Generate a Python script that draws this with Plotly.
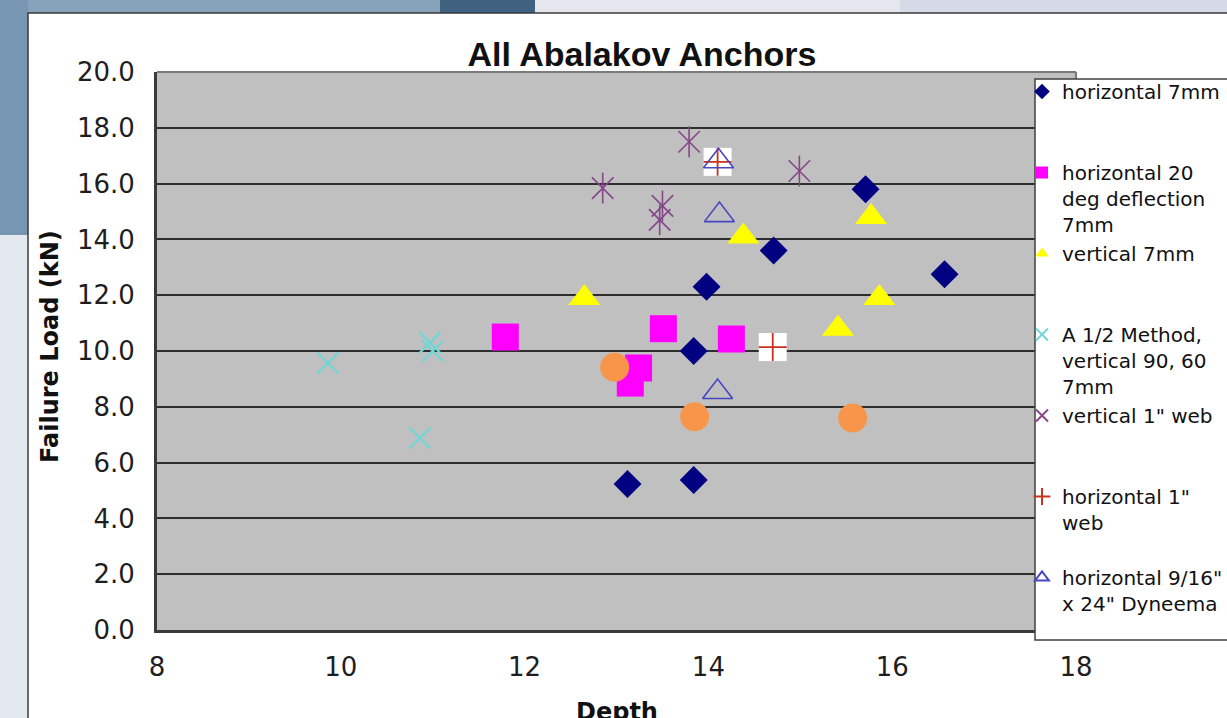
import plotly.graph_objects as go

# ---------------- data ----------------
h7_depth = [15.71, 14.71, 16.57, 13.98, 13.84, 13.12, 13.84]
h7_load = [15.8, 13.6, 12.75, 12.3, 10.0, 5.23, 5.38]

h20_depth = [11.79, 13.51, 14.25, 13.24, 13.15]
h20_load = [10.5, 10.8, 10.43, 9.39, 8.85]

v7_depth = [12.65, 14.38, 15.77, 15.86, 15.41]
v7_load = [11.9, 14.1, 14.8, 11.9, 10.8]

a12_depth = [9.86, 10.97, 11.0, 10.86]
a12_load = [9.57, 10.3, 10.0, 6.88]

vweb_depth = [12.85, 13.79, 14.99, 13.5, 13.47]
vweb_load = [15.84, 17.5, 16.45, 15.2, 14.7]

hweb_depth = [14.1, 14.7]
hweb_load = [16.78, 10.14]

dyn_depth = [14.11, 14.12, 14.1]
dyn_load = [16.8, 14.87, 8.53]

orange_depth = [12.98, 13.85, 15.57]
orange_load = [9.42, 7.64, 7.6]

series_names = [
    "horizontal 7mm<br>\u00a0<br>\u00a0",
    "horizontal 20<br>deg deflection<br>7mm",
    "vertical 7mm<br>\u00a0<br>\u00a0",
    "A 1/2 Method,<br>vertical 90, 60<br>7mm",
    "vertical 1\" web<br>\u00a0<br>\u00a0",
    "horizontal 1\"<br>web<br>\u00a0",
    "horizontal 9/16\"<br>x 24\" Dyneema",
]

x_ticks = [8, 10, 12, 14, 16, 18]
y_ticks = [0, 2, 4, 6, 8, 10, 12, 14, 16, 18, 20]

# ---------------- layout helpers (pixel -> paper) ----------------
W_FIG, H_FIG = 1227, 718
L, R, T, B = 157, 1076, 72, 630
PW, PH = R - L, B - T


def px(x):
    return (x - L) / PW


def py(y):
    return (B - y) / PH


fig = go.Figure()

fig.add_trace(go.Scatter(x=h7_depth, y=h7_load, mode="markers", name=series_names[0],
                         marker=dict(symbol="diamond", size=21.5, color="#000080")))
fig.add_trace(go.Scatter(x=h20_depth, y=h20_load, mode="markers", name=series_names[1],
                         marker=dict(symbol="square", size=27, color="#ff00ff")))
fig.add_trace(go.Scatter(x=v7_depth, y=v7_load, mode="markers", name=series_names[2],
                         marker=dict(symbol="triangle-up", size=28, color="#ffff00")))
fig.add_trace(go.Scatter(x=a12_depth, y=a12_load, mode="markers", name=series_names[3],
                         marker=dict(symbol="x-thin-open", size=21, color="#6fd6d6",
                                     line=dict(width=2.2))))
fig.add_trace(go.Scatter(x=vweb_depth, y=vweb_load, mode="markers", name=series_names[4],
                         marker=dict(symbol="x-thin-open", size=21.5, color="#86468a",
                                     line=dict(width=1.6))))
fig.add_trace(go.Scatter(x=vweb_depth, y=vweb_load, mode="markers", showlegend=False,
                         hoverinfo="skip",
                         marker=dict(symbol="line-ns-open", size=22, color="#86468a",
                                     line=dict(width=1.6))))
fig.add_trace(go.Scatter(x=hweb_depth, y=hweb_load, mode="markers", showlegend=False,
                         hoverinfo="skip",
                         marker=dict(symbol="square", size=28, color="#ffffff")))
fig.add_trace(go.Scatter(x=hweb_depth, y=hweb_load, mode="markers", name=series_names[5],
                         marker=dict(symbol="cross-thin-open", size=20, color="#c8321e",
                                     line=dict(width=1.8))))
fig.add_trace(go.Scatter(x=dyn_depth, y=dyn_load, mode="markers", name=series_names[6],
                         marker=dict(symbol="triangle-up-open", size=26, color="#4646c4",
                                     line=dict(width=1.6))))
fig.add_trace(go.Scatter(x=orange_depth, y=orange_load, mode="markers", showlegend=False,
                         marker=dict(symbol="circle", size=29, color="#f7964a")))

# ---------------- decorative background shapes ----------------
shapes = []


def rect(x0, y0, x1, y1, fill, layer="below", line=None):
    d = dict(type="rect", xref="paper", yref="paper",
             x0=px(x0), x1=px(x1), y0=py(y1), y1=py(y0),
             fillcolor=fill, layer=layer, line=line or dict(width=0))
    shapes.append(d)


# photo-like surroundings
rect(0, 0, 440, 14, "#86a3bb")
rect(440, 0, 535, 14, "#3f6280")
rect(535, 0, 900, 14, "#e6e6ee")
rect(900, 0, 1227, 14, "#d6d9e6")
rect(0, 0, 28, 235, "#7696b1")
rect(0, 235, 28, 718, "#e4e9ef")
# white chart area
rect(28, 13, 1240, 730, "#ffffff", line=dict(color="#3a3a3a", width=1.5))
# gray plot area
rect(L, T, R, B, "#c0c0c0")
# plot area top/right border
shapes.append(dict(type="line", xref="paper", yref="paper", x0=px(L), x1=px(R),
                   y0=py(T), y1=py(T), line=dict(color="#7a7a7a", width=2), layer="above"))
shapes.append(dict(type="line", xref="paper", yref="paper", x0=px(R), x1=px(R),
                   y0=py(T), y1=py(B), line=dict(color="#7a7a7a", width=2), layer="above"))
# legend box
rect(1035, 79, 1245, 640, "#ffffff", layer="above", line=dict(color="#404040", width=1.5))

tick_font = dict(family="DejaVu Sans", size=26, color="#1e1e1e")

fig.update_layout(
    width=W_FIG, height=H_FIG,
    margin=dict(l=L, r=W_FIG - R, t=T, b=H_FIG - B, autoexpand=False),
    paper_bgcolor="#dfe5ec",
    plot_bgcolor="rgba(0,0,0,0)",
    shapes=shapes,
    showlegend=True,
    title=dict(text="<b>All Abalakov Anchors</b>", x=642 / W_FIG, y=1 - 54 / H_FIG,
               xref="container", yref="container", xanchor="center", yanchor="middle",
               font=dict(family="Liberation Sans, Arial", size=34, color="#111111")),
    legend=dict(x=px(1022), y=py(72), xref="paper", yref="paper",
                xanchor="left", yanchor="top", bgcolor="rgba(0,0,0,0)",
                borderwidth=0, itemsizing="constant", valign="top",
                font=dict(family="DejaVu Sans", size=20, color="#111111"),
                tracegroupgap=0),
    xaxis=dict(range=[8, 18], tickvals=x_ticks, ticktext=[str(v) for v in x_ticks],
               showgrid=False, zeroline=False, showline=True, linecolor="#3a3a3a",
               linewidth=3, ticks="outside", ticklen=12, tickcolor="rgba(0,0,0,0)",
               tickfont=tick_font, fixedrange=True),
    yaxis=dict(range=[0, 20], tickvals=y_ticks, ticktext=[f"{v:.1f}" for v in y_ticks],
               showgrid=True, gridcolor="#2e2e2e", gridwidth=2, zeroline=False,
               showline=True, linecolor="#3a3a3a", linewidth=3,
               ticks="outside", ticklen=14, tickcolor="rgba(0,0,0,0)",
               tickfont=tick_font, fixedrange=True),
    annotations=[
        dict(text="<b>Failure Load (kN)</b>", xref="paper", yref="paper",
             x=px(50), y=py(347), xanchor="center", yanchor="middle", textangle=-90,
             showarrow=False, font=dict(family="DejaVu Sans", size=24, color="#111111")),
        dict(text="<b>Depth</b>", xref="paper", yref="paper",
             x=px(617), y=py(712), xanchor="center", yanchor="middle",
             showarrow=False, font=dict(family="DejaVu Sans", size=24, color="#111111")),
    ],
)

fig.write_html("out.html", config={"displayModeBar": False},
               post_script="document.body.style.margin='0px';")
